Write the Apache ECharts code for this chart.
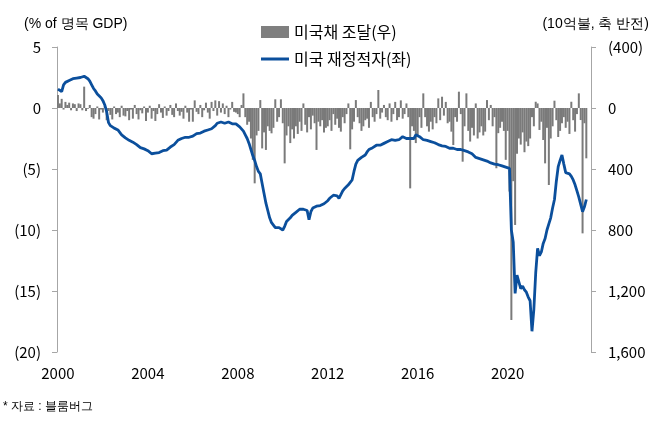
<!DOCTYPE html>
<html>
<head>
<meta charset="utf-8">
<script src="https://cdn.jsdelivr.net/npm/echarts@6/dist/echarts.min.js"></script>
<style>
html,body{margin:0;padding:0;background:#fff;}
#c{width:658px;height:421px;}
</style>
</head>
<body>
<div id="c"></div>
<script>
// ---- data (monthly, Jan 2000 onward) ----
const startYear = 2000;
const monthCount = 285; // axis runs Jan 2000 .. Sep 2023

// US fiscal balance, % of nominal GDP (left axis)
const deficit = [
  1.55, 1.45, 1.35, 1.9, 2.1, 2.15, 2.25, 2.3, 2.4, 2.4, 2.45, 2.5,
  2.5, 2.55, 2.6, 2.55, 2.4, 2.2, 1.9, 1.6, 1.4, 1.15, 1.0, 0.85,
  0.6, 0.25, -0.3, -1.2, -1.45, -1.55, -1.65, -1.6, -1.8, -2.0, -2.2, -2.35,
  -2.45, -2.55, -2.65, -2.7, -2.8, -2.9, -3.0, -3.1, -3.25, -3.3, -3.35, -3.45,
  -3.5, -3.6, -3.75, -3.85, -3.7, -3.75, -3.65, -3.6, -3.5, -3.4, -3.45, -3.3,
  -3.2, -3.1, -3.0, -2.85, -2.65, -2.6, -2.5, -2.45, -2.4, -2.45, -2.4, -2.35,
  -2.3, -2.2, -2.1, -2.0, -2.05, -1.95, -1.9, -1.85, -1.8, -1.75, -1.7, -1.6,
  -1.45, -1.25, -1.2, -1.15, -1.2, -1.25, -1.2, -1.15, -1.25, -1.3, -1.25, -1.3,
  -1.45, -1.55, -1.7, -1.9, -2.2, -2.5, -2.9, -3.4, -3.9, -4.3, -4.8, -5.2,
  -5.4, -6.2, -7.0, -7.8, -8.4, -9.0, -9.4, -9.6, -9.8, -9.85, -9.8, -9.95,
  -10.0, -9.7, -9.3, -9.2, -9.0, -8.8, -8.7, -8.55, -8.45, -8.3, -8.35, -8.3,
  -8.3, -8.4, -9.15, -8.5, -8.2, -8.15, -8.05, -7.95, -8.0, -7.9, -7.85, -7.8,
  -7.6, -7.4, -7.3, -7.15, -7.3, -7.2, -7.4, -7.1, -6.8, -6.6, -6.5, -6.3,
  -6.1, -5.9, -5.2, -4.6, -4.3, -4.2, -4.05, -4.0, -3.85, -3.6, -3.4, -3.3,
  -3.25, -3.15, -3.05, -3.0, -3.05, -2.95, -2.9, -2.85, -2.75, -2.7, -2.6, -2.55,
  -2.65, -2.75, -2.6, -2.45, -2.35, -2.45, -2.5, -2.45, -2.5, -2.4, -2.5, -2.2,
  -2.25, -2.35, -2.45, -2.6, -2.55, -2.65, -2.7, -2.75, -2.8, -2.85, -2.9, -3.0,
  -3.05, -3.1, -3.2, -3.15, -3.25, -3.3, -3.25, -3.3, -3.35, -3.4, -3.35, -3.4,
  -3.45, -3.5, -3.55, -3.6, -3.7, -3.75, -3.9, -4.05, -4.1, -4.15, -4.2, -4.25,
  -4.3, -4.35, -4.4, -4.5, -4.55, -4.6, -4.6, -4.65, -4.7, -4.75, -4.8, -4.85,
  -4.9, -4.95, -10.0, -11.0, -15.2, -13.7, -13.8, -14.8, -14.6, -14.9, -15.1, -15.5,
  -15.8, -18.3, -16.5, -13.5, -11.5, -12.1, -11.8, -11.1, -10.7, -10.0, -9.5, -9.0,
  -8.2, -7.5, -6.0, -4.8, -4.3, -3.85, -4.6, -5.3, -5.2, -5.4, -5.6, -5.9,
  -6.3, -6.8, -7.3, -7.9, -8.5, -8.1, -7.5
];

// US Treasury net borrowing, USD bn (right axis, inverted)
const borrowing = [
  -85, -30, -60, 10, -40, -20, -35, 15, -30, -25, 20, -30,
  -25, 15, -140, 20, 5, -20, 60, 70, 40, -10, 75, 10,
  30, -15, 80, 20, 45, 75, -10, 40, 30, 60, -15, 50,
  55, 20, 80, 10, 70, -20, 40, 75, 15, 35, -10, 85,
  30, -15, 70, 20, 85, 40, -25, 30, 65, -10, 50, 20,
  -20, 45, 60, -30, 20, 50, 25, 70, -15, 30, 90, 10,
  90, -50, 25, 40, -20, 60, 15, -35, 30, 70, -40, 20,
  -50, 50, -45, 30, -30, 40, -15, 60, 10, -40, 25, 30,
  40, 60, -20, -96, 60, 110, 90, 200, 340, 494, 180, 150,
  -52, 265, 160, 275, 120, 150, 166, 130, -57, 90, 60, -57,
  100, 363, 180, 120, 230, 140, 200, 120, 170, 90, 150, -30,
  110, 160, 60, 140, 50, 100, 275, 90, 120, 80, 160, 130,
  120, 80, 150, 40, 110, 70, 130, 155, 60, 100, 40, -30,
  271, 140, 90, -52, 60, 100, 150, 120, 80, 70, 130, -40,
  60, 90, 40, -118, 70, 30, -20, 60, 80, -30, 90, 40,
  -40, 80, 60, -50, 70, 40, -30, 60, 527, 120, 150, 230,
  180, 60, 130, -96, 60, 120, 155, 90, 140, 60, 100, -63,
  80, -74, 50, -40, 100, 90, 155, 243, 60, 90, -107, 40,
  352, 120, -96, 150, 220, 130, 180, -30, 200, 160, 120, 180,
  155, -52, 80, -20, 120, 60, 395, 165, 130, 90, 150, 340,
  150, 548, 1390, 480, 767, 300, 200, 240, 160, 290, 220, 250,
  200, 60, 120, -41, -30, 144, 90, 210, 363, 130, 505, 200,
  120, -48, 80, 190, 150, 100, 60, 130, 90, 170, -41, 80,
  155, 40, -96, 79, 822, 100, 330
];

const leftTicks = { min: -20, max: 5, interval: 5 };
const rightTicks = { min: -400, max: 1600, interval: 400 };
const labelYears = 4; // x label every 4 years

const months = [];
for (let i = 0; i < monthCount; i++) {
  const y = startYear + Math.floor(i / 12);
  const m = (i % 12) + 1;
  months.push(y + '-' + (m < 10 ? '0' + m : m));
}

const FONT = '"Noto Sans CJK KR", "Noto Sans", sans-serif';
const AXIS_GRAY = '#a6a6a6';

function paren(v) {
  const a = Math.abs(v).toLocaleString('en-US');
  return v < 0 ? '(' + a + ')' : a;
}

const chart = echarts.init(document.getElementById('c'), null, { renderer: 'canvas' });
chart.setOption({
  animation: false,
  backgroundColor: '#fff',
  textStyle: { fontFamily: FONT },
  grid: { left: 57, right: 67, top: 47, bottom: 69, containLabel: false },
  legend: [
    {
      data: [{ name: '미국채 조달(우)', icon: 'rect' }],
      left: 256, top: 19, itemWidth: 28, itemHeight: 12, itemGap: 5,
      itemStyle: { color: '#7f7f7f' },
      textStyle: { fontSize: 16, color: '#000', fontFamily: FONT }
    },
    {
      data: [{ name: '미국 재정적자(좌)', icon: 'rect' }],
      left: 256, top: 46, itemWidth: 28, itemHeight: 3, itemGap: 5,
      textStyle: { fontSize: 16, color: '#000', fontFamily: FONT }
    }
  ],
  xAxis: {
    type: 'category',
    data: months,
    boundaryGap: true,
    axisLine: { show: false, onZero: false },
    axisTick: { show: false },
    splitLine: { show: false },
    axisLabel: {
      interval: function (idx) { return idx % (12 * labelYears) === 0; },
      formatter: function (v) { return v.slice(0, 4); },
      fontSize: 15, color: '#000', margin: 14, fontFamily: FONT
    }
  },
  yAxis: [
    {
      type: 'value',
      position: 'left',
      min: leftTicks.min, max: leftTicks.max, interval: leftTicks.interval,
      axisLine: { show: true, lineStyle: { color: AXIS_GRAY, width: 1 } },
      axisTick: { show: true, inside: false, length: 5, lineStyle: { color: AXIS_GRAY } },
      splitLine: { show: false },
      axisLabel: { formatter: paren, fontSize: 15, color: '#000', margin: 16, fontFamily: FONT }
    },
    {
      type: 'value',
      position: 'right',
      inverse: true,
      min: rightTicks.min, max: rightTicks.max, interval: rightTicks.interval,
      axisLine: { show: true, lineStyle: { color: AXIS_GRAY, width: 1 } },
      axisTick: { show: true, inside: false, length: 5, lineStyle: { color: AXIS_GRAY } },
      splitLine: { show: false },
      axisLabel: { formatter: paren, fontSize: 15, color: '#000', margin: 17, fontFamily: FONT }
    }
  ],
  graphic: [
    { type: 'text', left: 24, top: 17, style: { text: '(% of 명목 GDP)', fontSize: 14, fill: '#000', font: '14px ' + FONT } },
    { type: 'text', right: 9, top: 17, style: { text: '(10억불, 축 반전)', fontSize: 14, fill: '#000', font: '14px ' + FONT } },
    { type: 'text', left: 3, top: 401, style: { text: '* 자료 : 블룸버그', fontSize: 12, fill: '#000', font: '12px ' + FONT } }
  ],
  series: [
    {
      name: '미국채 조달(우)',
      type: 'bar',
      yAxisIndex: 1,
      data: borrowing,
      barWidth: 2,
      itemStyle: { color: '#7a7a7a' },
      z: 1
    },
    {
      name: '미국 재정적자(좌)',
      type: 'line',
      yAxisIndex: 0,
      data: deficit,
      symbol: 'none',
      showSymbol: false,
      lineStyle: { color: '#0b4f9c', width: 2.8 },
      itemStyle: { color: '#0b4f9c' },
      z: 3
    }
  ]
});
</script>
</body>
</html>
